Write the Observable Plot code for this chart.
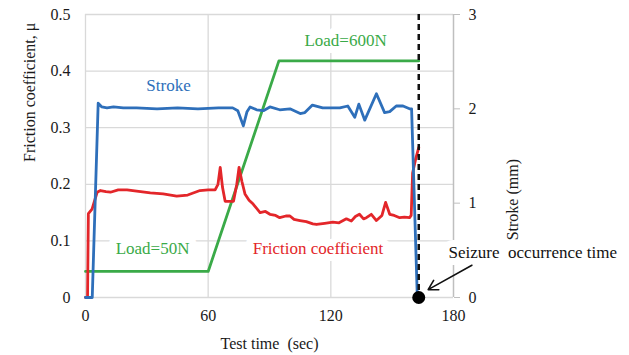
<!DOCTYPE html>
<html>
<head>
<meta charset="utf-8">
<script src="https://cdn.jsdelivr.net/npm/d3@7"></script>
<script src="https://cdn.jsdelivr.net/npm/@observablehq/plot@0.6"></script>
<style>
  html, body { margin: 0; padding: 0; background: #fff; }
  #chart svg { display: block; }
</style>
</head>
<body>
<div id="chart"></div>
<script>
// ---- Data ----
// Friction coefficient (left axis)
const frictionTime = [0, 1.0, 1.4, 3.2, 5.7, 7.3, 10, 12.2, 16, 20.3, 25, 31.7, 38, 44.6, 50, 56, 60, 63.4, 64.8, 65.9, 67, 68.3, 72.4, 74, 75.1, 76.5, 78, 80, 82, 85.4, 88, 90.2, 93, 95, 98, 100, 102, 104.9, 108, 111.2, 113, 117, 121, 124, 127.6, 130, 132, 134, 136, 137.4, 139.8, 142.3, 145, 146.8, 148.8, 151, 153.7, 156, 158.5, 159.3, 160, 161.5, 163];
const frictionMu   = [0, 0, 0.148, 0.156, 0.186, 0.189, 0.187, 0.186, 0.19, 0.19, 0.188, 0.185, 0.183, 0.179, 0.181, 0.189, 0.19, 0.19, 0.2, 0.23, 0.195, 0.17, 0.17, 0.2, 0.23, 0.205, 0.183, 0.172, 0.165, 0.15, 0.152, 0.147, 0.145, 0.141, 0.144, 0.144, 0.138, 0.136, 0.134, 0.13, 0.129, 0.131, 0.133, 0.132, 0.139, 0.135, 0.143, 0.147, 0.139, 0.141, 0.147, 0.136, 0.145, 0.168, 0.147, 0.145, 0.141, 0.142, 0.141, 0.145, 0.22, 0.245, 0.265];

// Stroke in mm (right axis, 0–3 mm)
const strokeTime = [0, 3.3, 6.2, 8, 10.5, 13.7, 18.5, 25, 35, 45, 55, 65, 72, 74.5, 77.2, 79, 80.5, 83.7, 87, 90.2, 95, 100, 105, 107.3, 111, 116, 124.4, 128.3, 131.7, 133.7, 136.6, 142.3, 146.3, 148.8, 152, 155.3, 158.5, 159.5, 162.3];
const strokeMM   = [0, 0, 2.06, 2.02, 2.01, 2.02, 2.01, 2.01, 2.0, 2.01, 2.0, 2.01, 2.01, 1.98, 1.82, 1.97, 2.02, 1.99, 1.98, 2.02, 1.99, 2.0, 1.95, 1.96, 2.04, 2.01, 2.01, 2.03, 1.91, 2.05, 1.88, 2.16, 1.96, 1.97, 2.03, 2.03, 2.0, 2.0, 0];

// Load profile as drawn against the left axis
const loadTime  = [0, 60, 94.6, 163];
const loadLevel = [0.046, 0.046, 0.418, 0.418];

const seizureTime = 163;

// Axis ticks
const xTicks = [0, 60, 120, 180];
const muTicks = [0, 0.1, 0.2, 0.3, 0.4, 0.5];
const strokeTicks = [0, 1, 2, 3];
const strokeMax = 3, muMax = 0.5;

// Labels
const labelText  = ["Stroke", "Load=600N", "Load=50N", "Friction coefficient"];
const labelTime  = [40.6, 127.2, 32.8, 113.7];
const labelMu    = [0.374, 0.454, 0.086, 0.086];
const labelColor = ["#2e6fba", "#3aaa48", "#3aaa48", "#e3262a"];
const seizureLabel = "Seizure\u00a0 occurrence time";
const seizureLabelPos = [177.6, 0.08];
const arrowFrom = [189, 0.057];
const arrowTo = [167.6, 0.014];

// ---- Build tables ----
const toMu = s => s * muMax / strokeMax;
const friction = frictionTime.map((t, i) => ({t, v: frictionMu[i]}));
const stroke = strokeTime.map((t, i) => ({t, v: toMu(strokeMM[i])}));
const load = loadTime.map((t, i) => ({t, v: loadLevel[i]}));
const labels = labelText.map((text, i) => ({text, t: labelTime[i], v: labelMu[i], c: labelColor[i]}));

const BLUE = "#2e6fba", GREEN = "#3aaa48", RED = "#e3262a";
const GRID = "#d9d9d9", AXIS = "#bfbfbf";
const FONT = "Liberation Serif, Liberation Sans, sans-serif";

const chart = Plot.plot({
  width: 629,
  height: 355,
  marginLeft: 85,
  marginRight: 176,
  marginTop: 14,
  marginBottom: 58,
  style: {fontFamily: FONT, fontSize: "16px", color: "#1a1a1a", background: "#fff"},
  x: {domain: [0, 180]},
  y: {domain: [0, 0.5]},
  marks: [
    Plot.ruleY(muTicks, {stroke: GRID, strokeWidth: 1.3}),
    Plot.ruleX(xTicks.filter(d => d < 180), {stroke: GRID, strokeWidth: 1.3}),
    Plot.ruleX([180], {stroke: AXIS, strokeWidth: 1.5}),
    // in-chart labels with white backing
    Plot.text(labels, {x: "t", y: "v", text: "text", fill: "c", stroke: "white", strokeWidth: 14, fontSize: 17, fontFamily: FONT}),
    Plot.text([seizureLabel], {x: seizureLabelPos[0], y: seizureLabelPos[1], text: d => d, textAnchor: "start", fill: "#111", stroke: "white", strokeWidth: 14, fontSize: 17, fontFamily: FONT}),
    // series
    Plot.line(load, {x: "t", y: "v", stroke: GREEN, strokeWidth: 2.8}),
    Plot.line(friction, {x: "t", y: "v", stroke: RED, strokeWidth: 2.8}),
    Plot.line(stroke, {x: "t", y: "v", stroke: BLUE, strokeWidth: 2.8}),
    // seizure marker
    Plot.ruleX([seizureTime], {stroke: "#111", strokeWidth: 2.5, strokeDasharray: "6,4"}),
    Plot.dot([seizureTime], {x: d => d, y: 0, r: 6.5, fill: "#000", stroke: "none"}),
    Plot.arrow([0], {x1: arrowFrom[0], y1: arrowFrom[1], x2: arrowTo[0], y2: arrowTo[1], stroke: "#111", strokeWidth: 1.6, headLength: 10}),
    // axes
    Plot.axisY(muTicks, {anchor: "left", tickSize: 0, tickPadding: 15, tickFormat: d => d === 0 ? "0" : d.toFixed(1), label: null, fontSize: 16, fontFamily: FONT}),
    Plot.axisX(xTicks, {anchor: "bottom", tickSize: 0, tickPadding: 12, label: null, fontSize: 16, fontFamily: FONT}),
    Plot.axisY(strokeTicks.map(toMu), {anchor: "right", tickSize: 6, tickPadding: 9, stroke: AXIS, tickFormat: d => String(Math.round(d * strokeMax / muMax)), label: null, fontSize: 16, fontFamily: FONT}),
    // axis titles
    Plot.text(["Friction coefficient, μ"], {frameAnchor: "left", dx: -56, dy: 6, rotate: -90, text: d => d, fontSize: 16, fontFamily: FONT}),
    Plot.text(["Stroke (mm)"], {frameAnchor: "right", dx: 59, dy: 3, rotate: -90, text: d => d, fontSize: 16, fontFamily: FONT}),
    Plot.text(["Test time\u00a0 (sec)"], {frameAnchor: "bottom", dy: 51, text: d => d, fontSize: 16, fontFamily: FONT})
  ]
});
document.getElementById("chart").appendChild(chart);
</script>
</body>
</html>
